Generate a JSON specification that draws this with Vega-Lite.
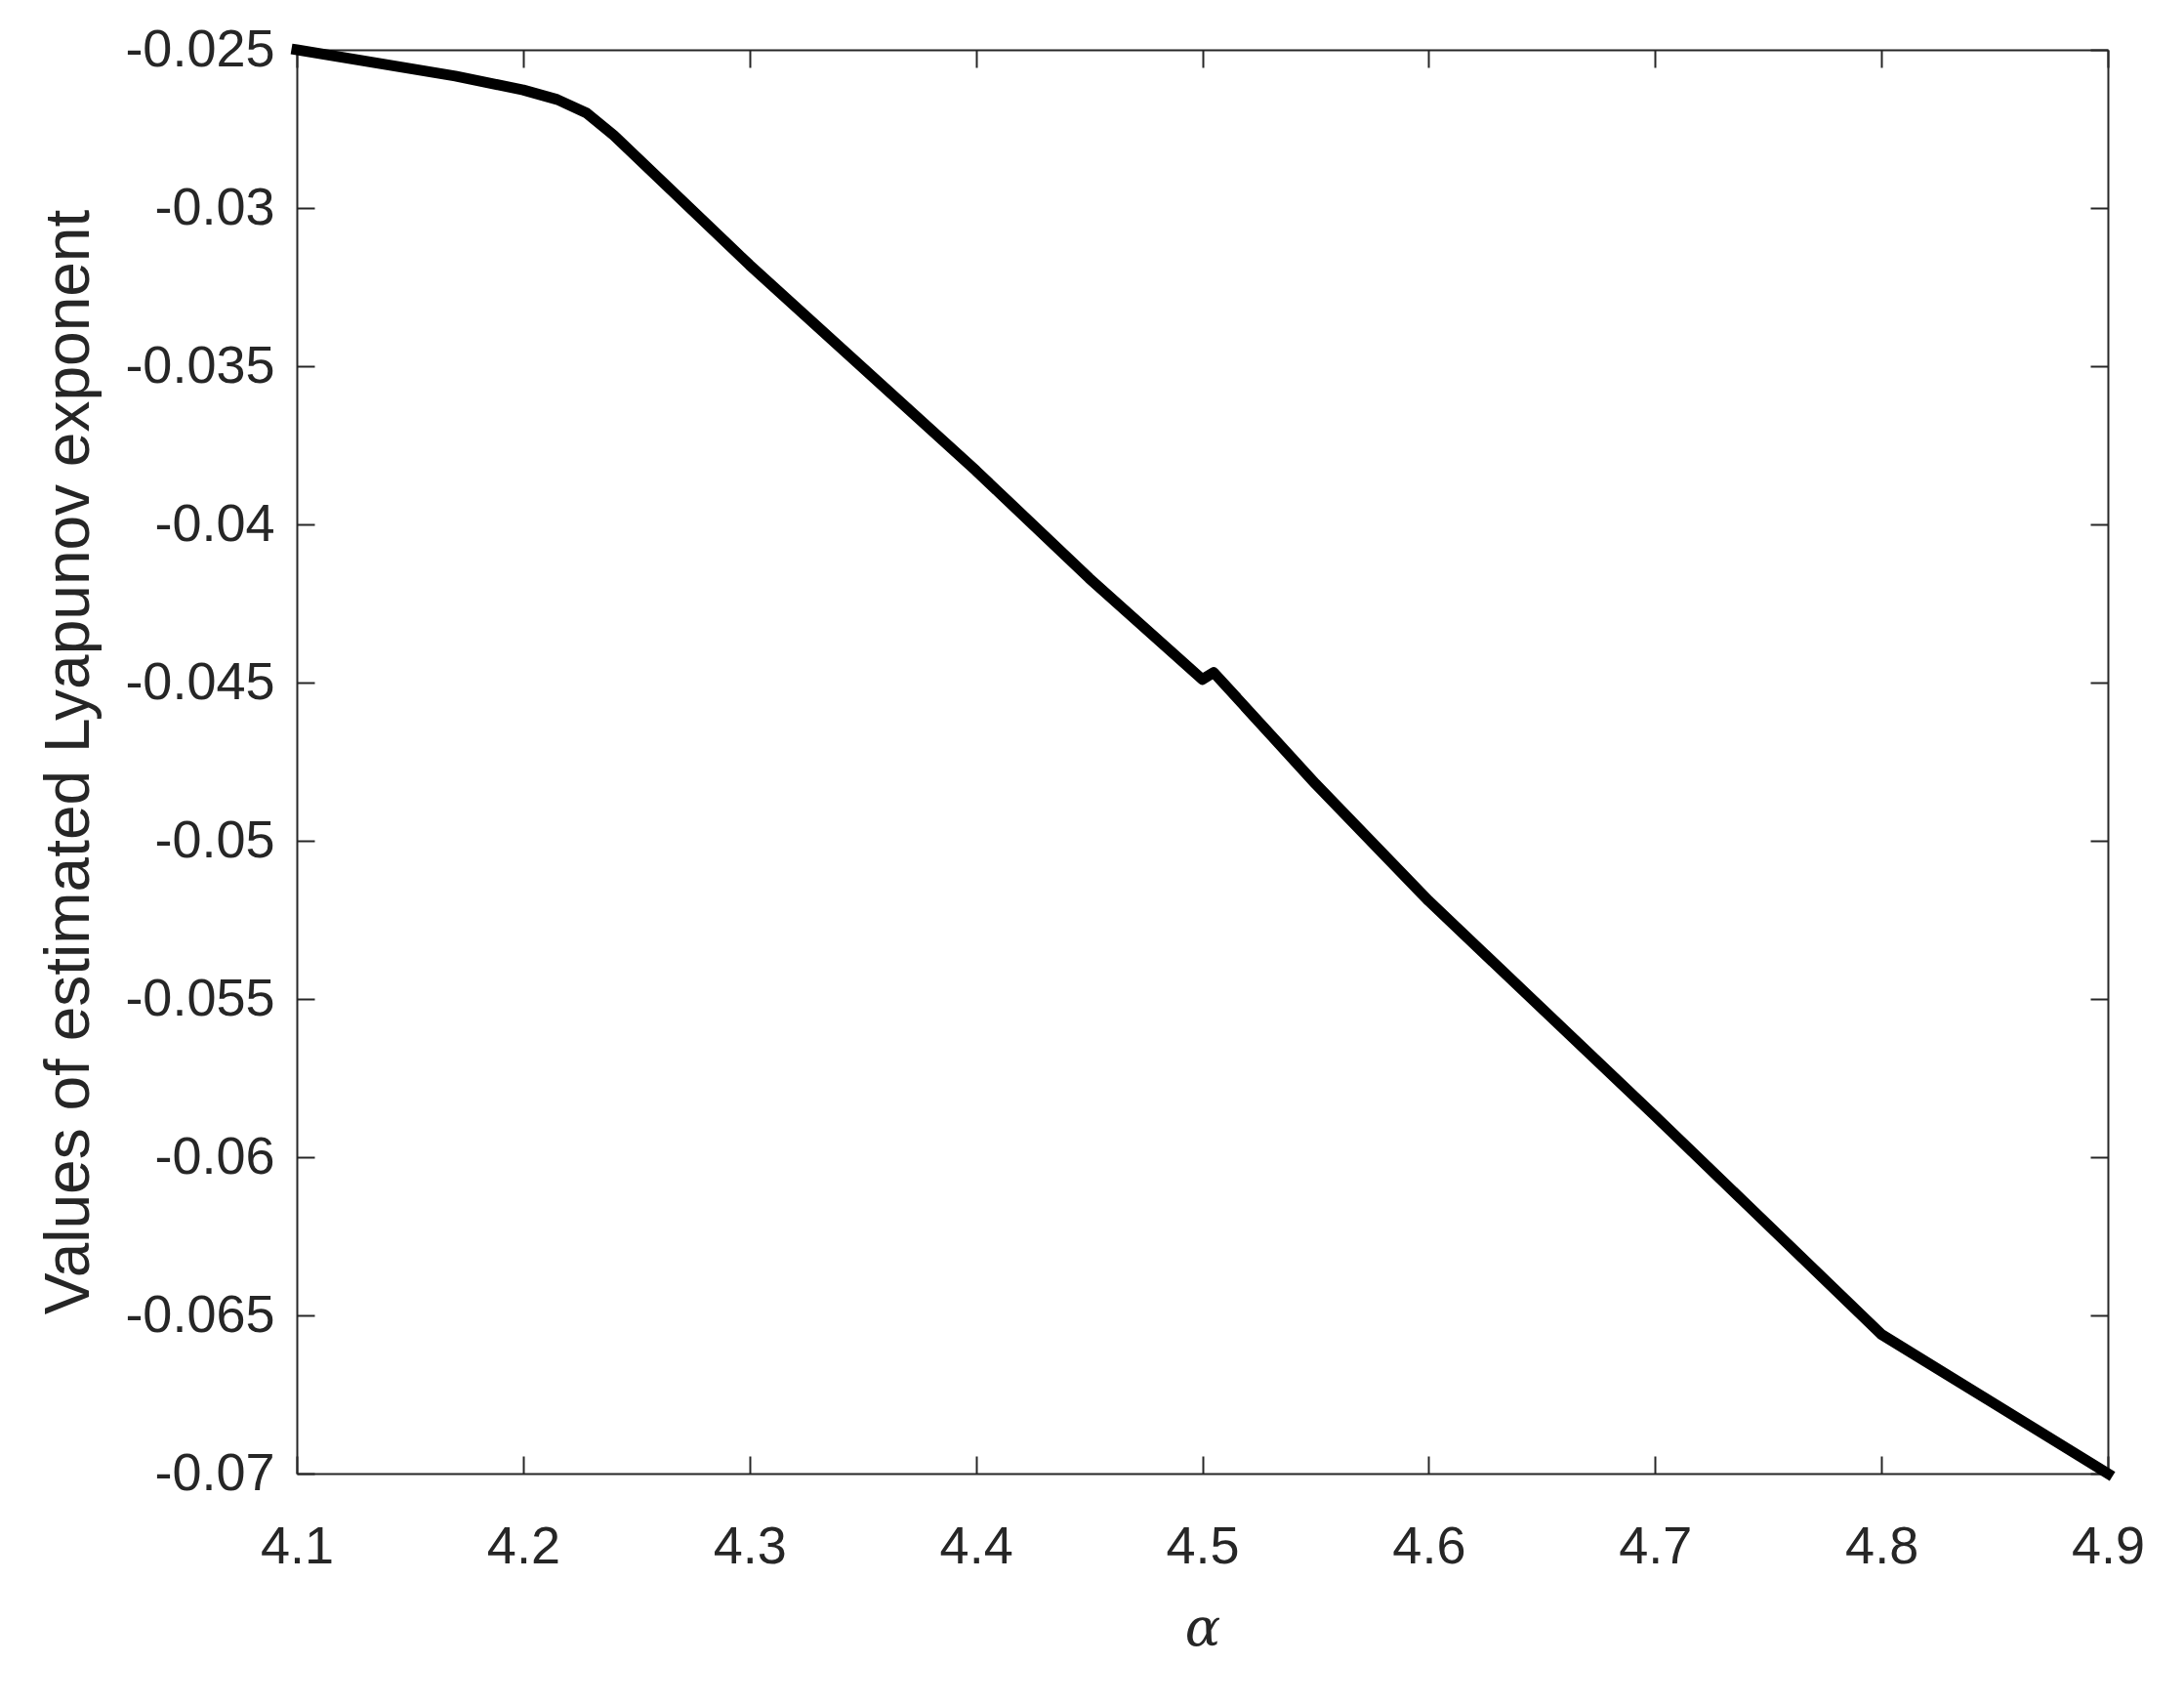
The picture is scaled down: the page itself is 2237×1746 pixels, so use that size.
{
  "$schema": "https://vega.github.io/schema/vega-lite/v6.json",
  "autosize": "none",
  "width": 1855,
  "height": 1458,
  "padding": {"left": 304, "top": 51, "right": 78, "bottom": 237},
  "background": "white",
  "config": {
    "view": {"stroke": null},
    "axis": {
      "domainColor": "#262626",
      "domainWidth": 2,
      "tickColor": "#262626",
      "tickWidth": 2,
      "tickSize": -18,
      "grid": false,
      "labelFont": "Liberation Sans",
      "labelFontSize": 54,
      "labelColor": "#262626",
      "titleColor": "#262626",
      "titleFontWeight": "normal"
    }
  },
  "data": {
    "values": [
      {"alpha": 4.1, "lyap": -0.025},
      {"alpha": 4.17, "lyap": -0.02583},
      {"alpha": 4.2, "lyap": -0.02627},
      {"alpha": 4.215, "lyap": -0.02657},
      {"alpha": 4.228, "lyap": -0.0270},
      {"alpha": 4.24, "lyap": -0.0277},
      {"alpha": 4.3, "lyap": -0.0318},
      {"alpha": 4.4, "lyap": -0.0383},
      {"alpha": 4.45, "lyap": -0.0417},
      {"alpha": 4.5, "lyap": -0.0449},
      {"alpha": 4.505, "lyap": -0.04468},
      {"alpha": 4.55, "lyap": -0.0482},
      {"alpha": 4.6, "lyap": -0.0519},
      {"alpha": 4.7, "lyap": -0.0587},
      {"alpha": 4.8, "lyap": -0.0656},
      {"alpha": 4.9, "lyap": -0.07}
    ]
  },
  "layer": [
    {
      "mark": {"type": "line", "color": "black", "strokeWidth": 11, "strokeJoin": "round", "strokeCap": "square", "clip": false},
      "encoding": {
        "x": {
          "field": "alpha", "type": "quantitative",
          "scale": {"domain": [4.1, 4.9], "nice": false, "zero": false},
          "axis": {
            "orient": "bottom",
            "values": [4.1, 4.2, 4.3, 4.4, 4.5, 4.6, 4.7, 4.8, 4.9],
            "labelExpr": "'' + datum.value",
            "labelPadding": 66,
            "labelFlush": false,
            "title": "α",
            "titleFont": "DejaVu Serif",
            "titleFontStyle": "italic",
            "titleFontSize": 54,
            "titlePadding": 30
          }
        },
        "y": {
          "field": "lyap", "type": "quantitative",
          "scale": {"domain": [-0.07, -0.025], "nice": false, "zero": false},
          "axis": {
            "orient": "left",
            "values": [-0.07, -0.065, -0.06, -0.055, -0.05, -0.045, -0.04, -0.035, -0.03, -0.025],
            "labelExpr": "'' + datum.value",
            "labelPadding": 41,
            "labelFlush": false,
            "title": "Values of estimated Lyapunov exponent",
            "titleFont": "Liberation Sans",
            "titleFontSize": 64,
            "titlePadding": 24
          }
        }
      }
    },
    {
      "mark": {"type": "line", "opacity": 0},
      "encoding": {
        "x": {
          "field": "alpha", "type": "quantitative",
          "axis": {
            "orient": "top",
            "values": [4.1, 4.2, 4.3, 4.4, 4.5, 4.6, 4.7, 4.8, 4.9],
            "labels": false,
            "title": null
          }
        },
        "y": {
          "field": "lyap", "type": "quantitative",
          "axis": {
            "orient": "right",
            "values": [-0.07, -0.065, -0.06, -0.055, -0.05, -0.045, -0.04, -0.035, -0.03, -0.025],
            "labels": false,
            "title": null
          }
        }
      }
    }
  ],
  "resolve": {"axis": {"x": "independent", "y": "independent"}}
}
